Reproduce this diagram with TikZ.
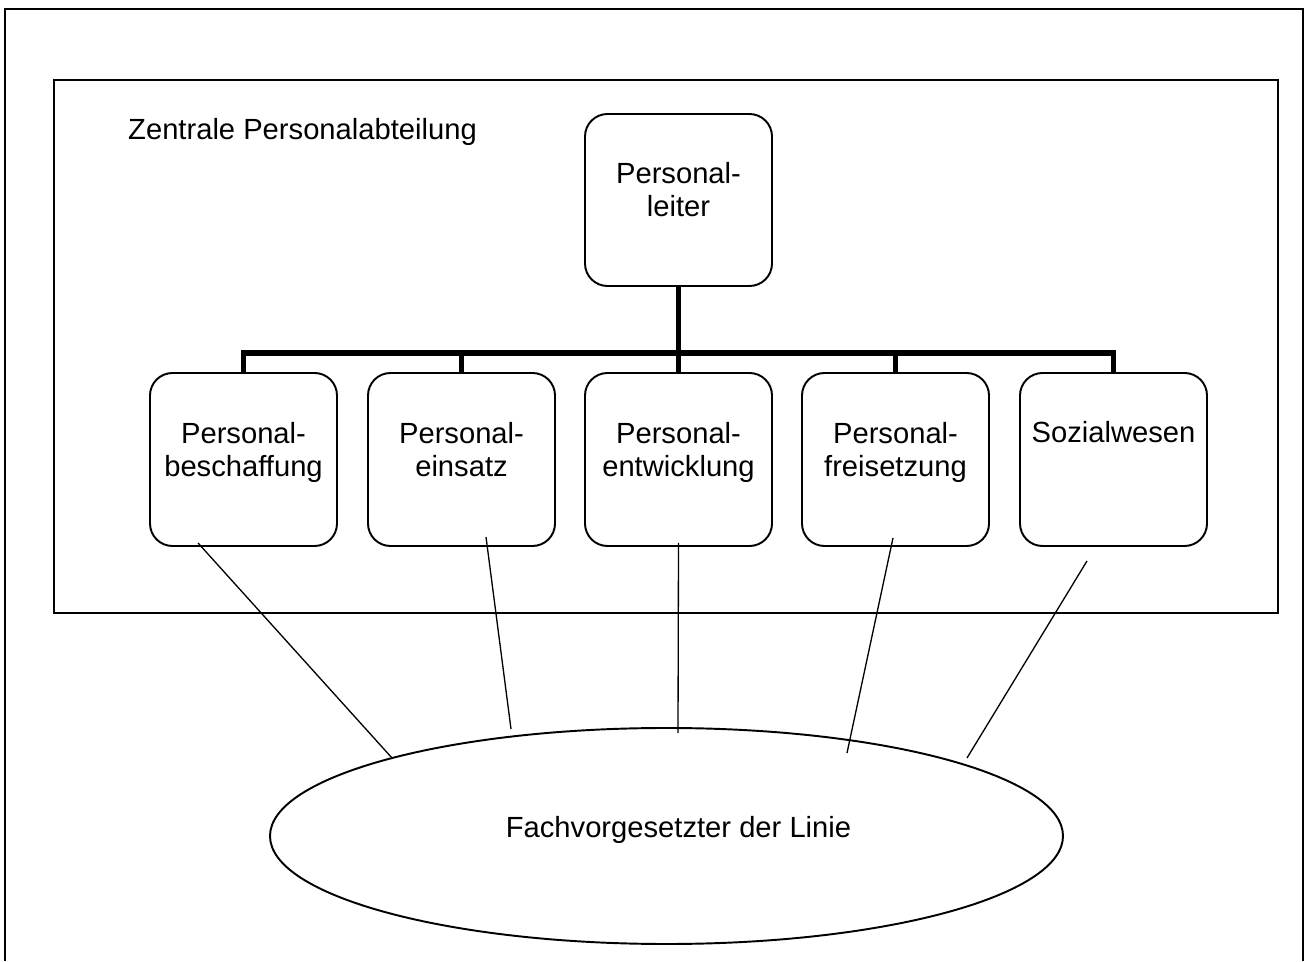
\documentclass[tikz,border=0pt]{standalone}
\usepackage{fontspec}
\setmainfont{Liberation Sans}
\usepackage{tikz}
\usetikzlibrary{shapes,calc}

\newcommand{\schrift}{\fontsize{16.6}{19.3}\selectfont}

\tikzset{
	abtbox/.style={draw, line width=1.1pt, rounded corners=0.45cm, minimum width=3.74cm, inner sep=0pt, align=center, font=\schrift, text height=1.4cm, text depth=2.06cm},
	zweizeilig/.style={text height=2.08cm, text depth=1.38cm},
	rahmen/.style={line width=1.1pt},
	balken/.style={line width=3pt},
	verbindung/.style={line width=0.75pt},
}

\begin{document}
\begin{tikzpicture}
	
	\useasboundingbox (0,0) rectangle (26.18,19.22);
	
	\draw[rahmen] (0.10,0) -- (0.10,19.04) -- (26.06,19.04) -- (26.06,0);
	\draw[rahmen] (1.08,6.96) rectangle (25.56,17.62);
	\node[font=\schrift, anchor=base west] (titel) at (2.44,16.42) {Zentrale Personalabteilung};
	
	\node[abtbox, zweizeilig, text height=2.06cm] (leiter) at (13.57,15.22) {Personal-\\leiter};
	\node[abtbox, zweizeilig] (besch) at (4.87,10.03) {Personal-\\beschaffung};
	\node[abtbox, zweizeilig] (einsatz) at (9.23,10.03) {Personal-\\einsatz};
	\node[abtbox, zweizeilig] (entw) at (13.57,10.03) {Personal-\\entwicklung};
	\node[abtbox, zweizeilig] (frei) at (17.91,10.03) {Personal-\\freisetzung};
	\node[abtbox] (sozial) at (22.27,10.03) {Sozialwesen};
	
	\coordinate (bar) at (13.57,12.16);
	
	\draw[balken] (leiter.south) -- (bar);
	\draw[balken] (besch.north) -- (besch.north |- bar) -- (sozial.north |- bar) -- (sozial.north);
	\draw[balken] (einsatz.north) -- (einsatz.north |- bar);
	\draw[balken] (entw.north) -- (entw.north |- bar);
	\draw[balken] (frei.north) -- (frei.north |- bar);
	
	\node[draw, ellipse, line width=1.1pt, minimum width=15.86cm, minimum height=4.32cm, inner sep=0pt] (linie) at (13.33,2.50) {};
	\node[font=\schrift, anchor=base] (linietext) at (13.57,2.48) {Fachvorgesetzter der Linie};
	
	\coordinate (f1) at (7.84,4.06);
	\coordinate (f2) at (10.22,4.64);
	\coordinate (f3) at (13.56,4.56);
	\coordinate (f4) at (16.94,4.16);
	\coordinate (f5) at (19.34,4.06);
	
	\draw[verbindung] ([xshift=-0.91cm,yshift=0.08cm]besch.south) -- (f1);
	\draw[verbindung] ([xshift=0.49cm,yshift=0.20cm]einsatz.south) -- (f2);
	\draw[verbindung] ([yshift=0.08cm]entw.south) -- (f3);
	\draw[verbindung] ([xshift=-0.05cm,yshift=0.18cm]frei.south) -- (f4);
	\draw[verbindung] ([xshift=-0.53cm,yshift=-0.28cm]sozial.south) -- (f5);
	
\end{tikzpicture}
\end{document}
